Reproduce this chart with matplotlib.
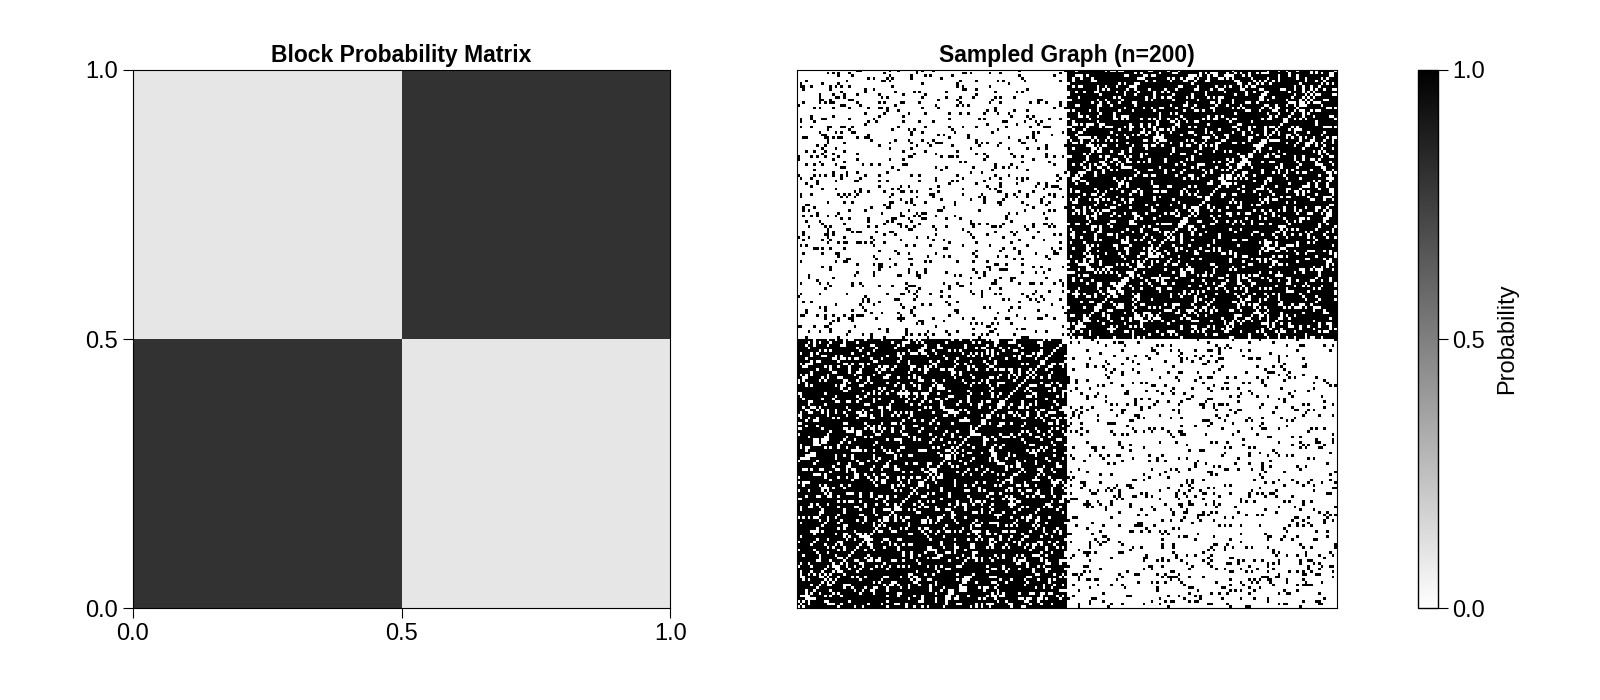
import numpy as np
import matplotlib
matplotlib.use("Agg")
import matplotlib.pyplot as plt
from matplotlib.colors import LinearSegmentedColormap

plt.rcParams['font.family'] = ['Liberation Sans', 'DejaVu Sans']

# block probabilities (within group, between groups)
p_within = 0.8
p_between = 0.1
n_nodes = 200
block_sizes = [100, 100]
tick_vals = [0.0, 0.5, 1.0]
tick_labels = ["0.0", "0.5", "1.0"]

block_matrix = np.array([[p_within, p_between],
                         [p_between, p_within]])

# sampled symmetric adjacency matrix, no self loops (seeded sample of the SBM)
groups = np.repeat([0, 1], block_sizes)
probs = block_matrix[groups][:, groups]
rng = np.random.default_rng(3)
upper = np.triu(rng.random((n_nodes, n_nodes)) < probs, 1)
adj = (upper | upper.T).astype(float)

cmap = LinearSegmentedColormap.from_list("grays", ["#ffffff", "#000000"])

fig = plt.figure(figsize=(16, 7), dpi=100)
ax1 = fig.add_axes([0.083, 0.131, 0.336, 0.769])
ax2 = fig.add_axes([0.498, 0.131, 0.3375, 0.769])
cax = fig.add_axes([0.886, 0.131, 0.0125, 0.769])

ax1.imshow(block_matrix.T, origin="lower", cmap=cmap, vmin=0, vmax=1,
           extent=[0, 1, 0, 1], interpolation="nearest", aspect="auto")
ax1.set_xticks(tick_vals, tick_labels)
ax1.set_yticks(tick_vals, tick_labels)
ax1.tick_params(labelsize=17, length=7)
ax1.set_title("Block Probability Matrix", fontsize=16.5, fontweight="bold", pad=6)

im = ax2.imshow(adj.T, origin="lower", cmap=cmap, vmin=0, vmax=1,
                interpolation="nearest", aspect="auto")
ax2.set_xticks([])
ax2.set_yticks([])
ax2.set_title(f"Sampled Graph (n={n_nodes})", fontsize=16.5, fontweight="bold", pad=6)

cb = fig.colorbar(im, cax=cax)
cb.set_ticks(tick_vals, labels=tick_labels)
cb.ax.tick_params(labelsize=17, length=7)
cb.set_label("Probability", fontsize=17, labelpad=8)
cb.outline.set_linewidth(1)

fig.savefig("out.png")
